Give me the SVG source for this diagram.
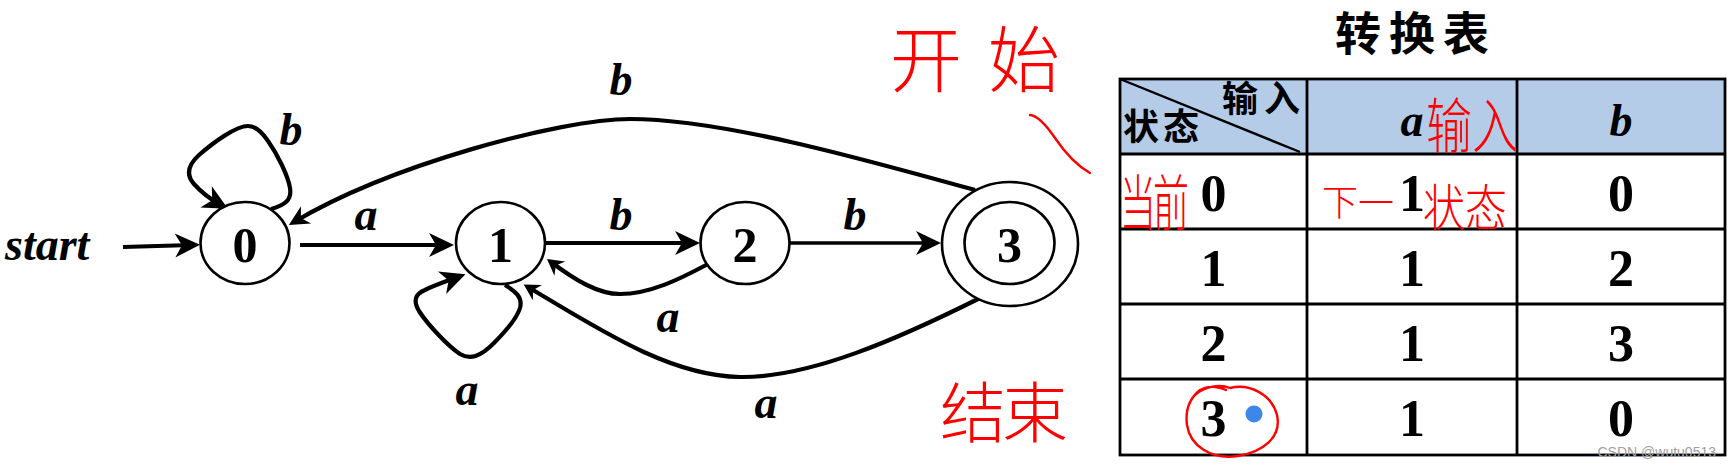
<svg xmlns="http://www.w3.org/2000/svg" width="1731" height="467" viewBox="0 0 1731 467">
<style>
  .node { fill: #fff; stroke: #000; stroke-width: 2.6; }
  .edge { fill: none; stroke: #000; stroke-width: 4.2; }
  .dig { font-family: "Liberation Serif", "Times New Roman", serif; font-weight: bold; font-size: 50px; text-anchor: middle; fill: #000; }
  .lbl { font-family: "Liberation Serif", "Times New Roman", serif; font-weight: bold; font-style: italic; font-size: 46px; text-anchor: middle; fill: #000; }
  .tdig { font-family: "Liberation Serif", "Times New Roman", serif; font-weight: bold; font-size: 52px; text-anchor: middle; fill: #000; }
  .cjk { font-family: "Noto Sans CJK SC", sans-serif; font-weight: bold; fill: #000; }
  .grid { stroke: #000; stroke-width: 2.8; fill: none; }
  .hand { font-family: "Noto Sans CJK SC", sans-serif; font-weight: 300; fill: #f00; }
  .red { fill: none; stroke: #f00; stroke-width: 2.4; stroke-linecap: round; stroke-linejoin: round; }
</style>
<defs>
  <marker id="arrL" markerUnits="userSpaceOnUse" viewBox="-26 -13 28 26" refX="-8" refY="0" markerWidth="28" markerHeight="26" orient="auto">
    <path d="M0,0 L-25,-12 L-18,0 L-25,12 Z" fill="#000"/>
  </marker>
  <marker id="arrM" markerUnits="userSpaceOnUse" viewBox="-22 -11 24 22" refX="-6" refY="0" markerWidth="24" markerHeight="22" orient="auto">
    <path d="M0,0 L-20,-10 L-14,0 L-20,10 Z" fill="#000"/>
  </marker>
  <marker id="arrS" markerUnits="userSpaceOnUse" viewBox="-18 -10 20 20" refX="-5" refY="0" markerWidth="20" markerHeight="20" orient="auto">
    <path d="M0,0 L-16,-9 L-11,0 L-16,9 Z" fill="#000"/>
  </marker>
</defs>

<rect x="0" y="0" width="1731" height="467" fill="#fff"/>

<!-- connectors -->
<g id="connectors">
  <path id="e-start" class="edge" d="M123,247 L192,245" marker-end="url(#arrL)"/>
  <path id="e-0-0" class="edge" d="M271,209 C285,205 292,200 290,188 C288,176 278,155 268,141 C262,132 256,126 248,126 C236,126 214,142 199,155 C188,165 186,175 194,184 C201,192 210,199 221,205" marker-end="url(#arrL)"/>
  <path id="e-0-1" class="edge" d="M300,245 L446,245" marker-end="url(#arrL)"/>
  <path id="e-1-1" class="edge" d="M505,285 C515,291 523,297 520,308 C517,318 505,332 494,343 C480,357 470,360 460,354 C448,346 428,325 419,311 C413,301 415,294 425,290 C435,285 447,281 458,277" marker-end="url(#arrL)"/>
  <path id="e-1-2" class="edge" d="M545,243 L692,243" marker-end="url(#arrL)"/>
  <path id="e-2-3" class="edge" style="stroke-width:3.6" d="M789,243 L933,243" marker-end="url(#arrL)"/>
  <path id="e-2-1" class="edge" d="M708,264 C680,279 650,294 620,294 C598,294 575,280 551,262" marker-end="url(#arrS)"/>
  <path id="e-3-1" class="edge" d="M980,298 C900,338 810,378 740,377 C670,376 600,330 528,287" marker-end="url(#arrS)"/>
  <path id="e-3-0" class="edge" d="M975,190 C860,158 720,119 630,119 C560,119 390,165 294,222" marker-end="url(#arrM)"/>
</g>

<!-- edge labels -->
<g id="edge-labels">
  <text class="lbl" x="291" y="145">b</text>
  <text class="lbl" x="366" y="230">a</text>
  <text class="lbl" x="621" y="95">b</text>
  <text class="lbl" x="621" y="230">b</text>
  <text class="lbl" x="855" y="230">b</text>
  <text class="lbl" x="668" y="332">a</text>
  <text class="lbl" x="467" y="405">a</text>
  <text class="lbl" x="766" y="418">a</text>
  <text class="lbl" x="5" y="260" style="text-anchor:start">start</text>
</g>

<!-- nodes -->
<g id="node-0">
  <ellipse class="node" cx="245" cy="243" rx="44.5" ry="41"/>
  <text class="dig" x="245" y="262">0</text>
</g>
<g id="node-1">
  <ellipse class="node" cx="500.5" cy="243" rx="44.5" ry="41"/>
  <text class="dig" x="500.5" y="262">1</text>
</g>
<g id="node-2">
  <ellipse class="node" cx="745" cy="243" rx="44.5" ry="41"/>
  <text class="dig" x="745" y="262">2</text>
</g>
<g id="node-3">
  <ellipse class="node" cx="1010" cy="244" rx="68" ry="62"/>
  <ellipse class="node" cx="1009.5" cy="243" rx="45" ry="41"/>
  <text class="dig" x="1009.5" y="262">3</text>
</g>

<!-- transition table -->
<g id="table">
  <text class="cjk" x="1416" y="50" font-size="46" text-anchor="middle" letter-spacing="8">转换表</text>
  <rect x="1120" y="79" width="605" height="75" fill="#b5cce8"/>
  <line class="grid" x1="1120" y1="79" x2="1300" y2="152" style="stroke-width:2.4"/>
  <rect class="grid" x="1120" y="79" width="605" height="376"/>
  <line class="grid" x1="1307" y1="79" x2="1307" y2="455"/>
  <line class="grid" x1="1517" y1="79" x2="1517" y2="455"/>
  <line class="grid" x1="1120" y1="154" x2="1725" y2="154"/>
  <line class="grid" x1="1120" y1="229" x2="1725" y2="229"/>
  <line class="grid" x1="1120" y1="304" x2="1725" y2="304"/>
  <line class="grid" x1="1120" y1="379" x2="1725" y2="379"/>
  <text class="cjk" x="1222" y="112" font-size="36" letter-spacing="6">输入</text>
  <text class="cjk" x="1123" y="140" font-size="36" letter-spacing="4">状态</text>
  <text class="lbl" x="1412" y="136">a</text>
  <text class="lbl" x="1621" y="136">b</text>

  <text class="tdig" x="1213.5" y="211">0</text>
  <text class="tdig" x="1412" y="211">1</text>
  <text class="tdig" x="1621" y="211">0</text>

  <text class="tdig" x="1213.5" y="286">1</text>
  <text class="tdig" x="1412" y="286">1</text>
  <text class="tdig" x="1621" y="286">2</text>

  <text class="tdig" x="1213.5" y="361">2</text>
  <text class="tdig" x="1412" y="361">1</text>
  <text class="tdig" x="1621" y="361">3</text>

  <text class="tdig" x="1213.5" y="436">3</text>
  <text class="tdig" x="1412" y="436">1</text>
  <text class="tdig" x="1621" y="436">0</text>
</g>

<!-- handwritten annotations -->
<g id="annotations">
  <text class="hand" x="890" y="86" font-size="72" letter-spacing="26">开始</text>
  <path class="red" d="M1030,115 Q1040,116 1055,138 Q1072,163 1090,173"/>
  <text class="hand" x="940" y="437" font-size="66" letter-spacing="-4">结束</text>
  <text class="hand" transform="translate(1426,148) scale(1,1.3)" x="0" y="0" font-size="46">输入</text>
  <text class="hand" transform="translate(1120,226) scale(1,1.7)" x="0" y="0" font-size="36" letter-spacing="-3">当前</text>
  <text class="hand" x="1322" y="216" font-size="36">下一</text>
  <text class="hand" transform="translate(1423,226) scale(1,1.2)" x="0" y="0" font-size="42">状态</text>
  <path class="red" d="M1195,395 C1205,386 1220,384 1230,388 C1250,383 1272,395 1277,415 C1282,438 1262,452 1238,456 C1210,460 1190,445 1187,425 C1185,410 1190,398 1200,390 C1210,384 1222,388 1226,390"/>
  <circle cx="1254" cy="414" r="8.5" fill="#3c87e8"/>
  <text x="1716" y="457" font-family="Liberation Sans, Arial, sans-serif" font-size="14" fill="#a0a0a0" text-anchor="end">CSDN @wutu0513</text>
</g>
</svg>
